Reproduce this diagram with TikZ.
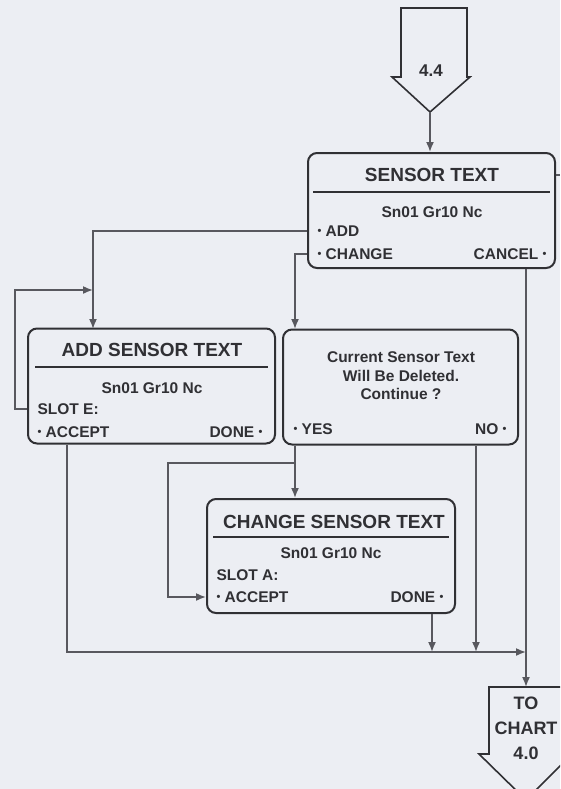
\documentclass[tikz,border=0pt]{standalone}
\usepackage{fontspec}
\setmainfont{Liberation Sans}
\usetikzlibrary{arrows.meta}
\definecolor{paper}{RGB}{236,238,243}
\definecolor{ink}{RGB}{48,48,52}
\definecolor{wire}{RGB}{88,88,94}
\newcommand{\optdot}{\raisebox{2.2pt}{\fontsize{11pt}{11pt}\selectfont\textbullet}}
\tikzset{
  panel/.style={draw=ink,line width=2,rounded corners=9,fill=paper,minimum width=247,minimum height=115},
  offpage/.style={draw=ink,line width=1.6,fill=paper},
  rule/.style={draw=ink,line width=1.2},
  flow/.style={draw=wire,line width=1.6,-{Latex[length=10pt,width=8pt]}},
  wireonly/.style={draw=wire,line width=1.6},
  title/.style={text=ink,font=\fontsize{19pt}{21pt}\selectfont\bfseries},
  item/.style={text=ink,font=\fontsize{15.5pt}{18.5pt}\selectfont\bfseries},
  bigitem/.style={text=ink,align=center,font=\fontsize{18pt}{25pt}\selectfont\bfseries}
}
\begin{document}
\begin{tikzpicture}[x=1pt,y=-1pt]
\fill [color=paper] (0, 0) rectangle (560, 789);
\clip (0, 0) rectangle (560, 789);

\draw [offpage] (401, 8) -- (467, 8) -- (467, 77) -- (470, 77) -- (430, 112) -- (392, 77) -- (401, 77) -- cycle;
\node (in44) at (431, 71) [item,font=\fontsize{17pt}{19pt}\selectfont\bfseries] {4.4};
\coordinate (in44tip) at (430, 112);

\draw [offpage] (489, 687) -- (562, 687) -- (562, 754) -- (572, 754) -- (526, 800) -- (479, 754) -- (489, 754) -- cycle;
\node (tochart) at (526, 728) [bigitem] {TO\\CHART\\4.0};
\coordinate (outtop) at (526, 687);

\node (sensor) at (431.5, 210.5) [panel] {};
\draw [rule] (313, 192) -- (550, 192);
\node (stitle) at (432, 175) [title] {SENSOR TEXT};
\node (sid) at (432, 212) [item] {Sn01 Gr10 Nc};
\node (sadd) at (314, 231) [item,anchor=west] {\optdot\ ADD};
\node (schange) at (314, 254) [item,anchor=west] {\optdot\ CHANGE};
\node (scancel) at (550, 254) [item,anchor=east] {CANCEL \optdot};

\node (addbox) at (151.5, 386) [panel] {};
\draw [rule] (35, 367) -- (268, 367);
\node (atitle) at (152, 350) [title] {ADD SENSOR TEXT};
\node (aid) at (152, 388) [item] {Sn01 Gr10 Nc};
\node (slote) at (34, 409) [item,anchor=west] {SLOT E:};
\node (aaccept) at (34, 432) [item,anchor=west] {\optdot\ ACCEPT};
\node (adone) at (266, 432) [item,anchor=east] {DONE \optdot};

\node (qbox) at (400.5, 387) [panel,minimum width=235] {};
\node (qtext) at (401, 376) [item,align=center] {Current Sensor Text\\Will Be Deleted.\\Continue ?};
\node (qyes) at (290, 429) [item,anchor=west] {\optdot\ YES};
\node (qno) at (510, 429) [item,anchor=east] {NO \optdot};

\node (chgbox) at (331, 556) [panel,minimum width=248,minimum height=114] {};
\draw [rule] (213, 537) -- (449, 537);
\node (ctitle) at (334, 522) [title] {CHANGE SENSOR TEXT};
\node (cid) at (331, 553) [item] {Sn01 Gr10 Nc};
\node (slota) at (213, 575) [item,anchor=west] {SLOT A:};
\node (caccept) at (213, 597) [item,anchor=west] {\optdot\ ACCEPT};
\node (cdone) at (447, 597) [item,anchor=east] {DONE \optdot};

\coordinate (addtop) at (93, 329);
\coordinate (qtop) at (295, 329);
\coordinate (addloop) at (15, 290);
\coordinate (yesloop) at (168, 463);
\coordinate (merge) at (526, 652);
\coordinate (addacc) at (67, 652);
\coordinate (noline) at (476, 652);
\coordinate (doneline) at (432, 652);

\draw [flow] (in44tip) -- (in44tip |- sensor.north);
\draw [wireonly] (sensor.east |- stitle) -- (560, 175);
\draw [flow] (sensor.west |- sadd) -| (addtop);
\draw [flow] (sensor.west |- schange) -| (qtop);
\draw [flow] (sensor.south -| outtop) -- (outtop);
\draw [flow] (addbox.west |- slote) -| (addloop) -- (addloop -| addtop);
\draw [flow] (addbox.south -| addacc) -- (addacc) -- (merge);
\draw [flow] (qbox.south -| qtop) -- (chgbox.north -| qtop);
\draw [flow] (yesloop -| qtop) -- (yesloop) |- (chgbox.west |- caccept);
\draw [flow] (qbox.south -| noline) -- (noline);
\draw [flow] (chgbox.south -| doneline) -- (doneline);
\end{tikzpicture}
\end{document}
